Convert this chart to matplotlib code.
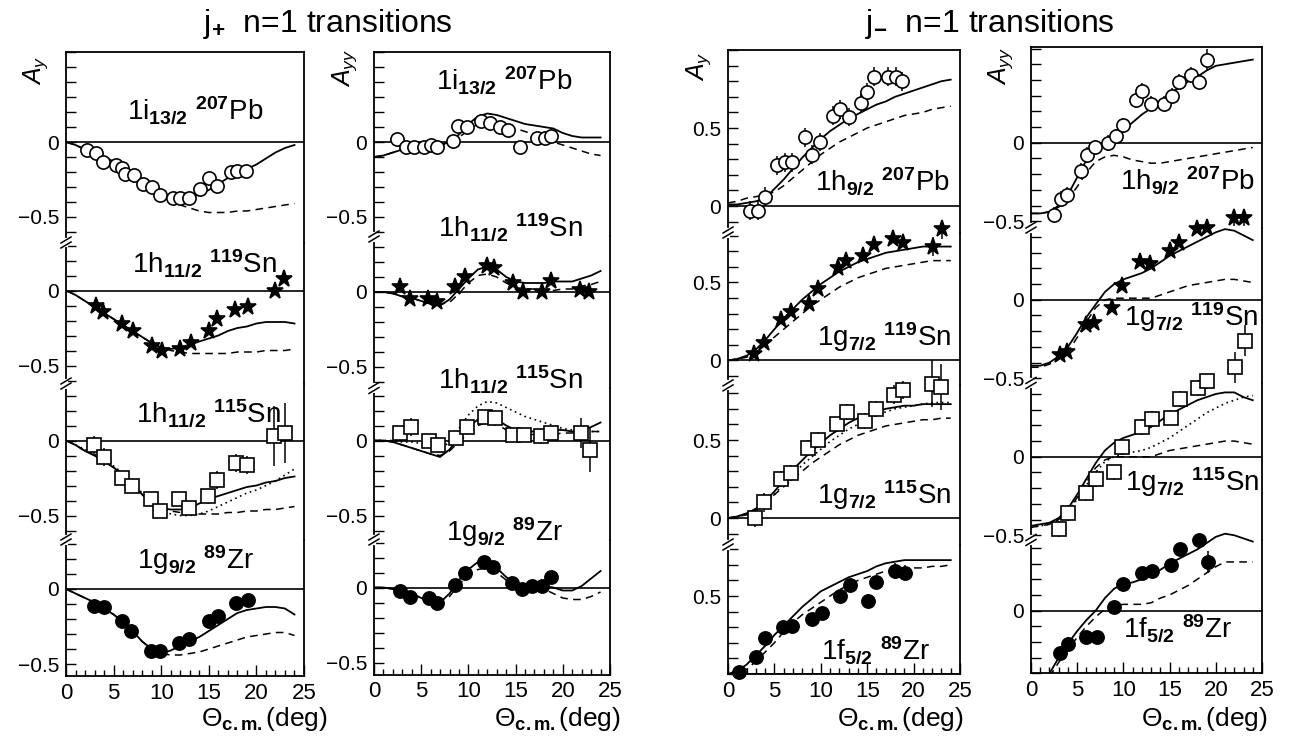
import numpy as np
import matplotlib
matplotlib.use("Agg")
import matplotlib.pyplot as plt
from matplotlib.lines import Line2D
from matplotlib.transforms import Bbox, TransformedBbox
from matplotlib.ticker import FixedLocator, FixedFormatter, MultipleLocator

plt.rcParams['font.family'] = ['Liberation Sans', 'DejaVu Sans']
plt.rcParams['mathtext.fontset'] = 'custom'
plt.rcParams['mathtext.rm'] = 'Liberation Sans'
plt.rcParams['mathtext.bf'] = 'Liberation Sans:bold'
plt.rcParams['mathtext.it'] = 'Liberation Sans:italic'
plt.rcParams['axes.linewidth'] = 1.3

nan = np.nan
theta = np.arange(25)   # model curves are tabulated every degree

# ---------------- j+ , A_y ----------------
ay_plus_pb_x = [2.2, 3.1, 3.9, 5.2, 5.9, 6.2, 7.1, 8.1, 9.0, 9.9, 11.2, 12.0, 12.9, 14.1, 15.0, 15.9, 17.3, 18.0, 18.9]
ay_plus_pb_y = [-0.05, -0.07, -0.13, -0.15, -0.17, -0.21, -0.22, -0.28, -0.30, -0.35, -0.37, -0.37, -0.37, -0.31, -0.24, -0.29, -0.20, -0.19, -0.19]
ay_plus_pb_full = [0, -0.02, -0.05, -0.07, -0.10, -0.13, -0.17, -0.21, -0.26, -0.30, -0.34, -0.37, -0.38, -0.37, -0.35, -0.32, -0.28, -0.24, -0.21, -0.18, -0.15, -0.11, -0.07, -0.04, -0.02]
ay_plus_pb_dash = [0, -0.02, -0.05, -0.07, -0.10, -0.13, -0.17, -0.21, -0.26, -0.30, -0.34, -0.38, -0.42, -0.44, -0.46, -0.47, -0.47, -0.47, -0.46, -0.46, -0.45, -0.44, -0.43, -0.42, -0.41]

ay_plus_sn119_x = [3.1, 3.9, 5.9, 7.0, 9.0, 10.1, 12.0, 13.1, 15.0, 15.9, 17.8, 19.1, 22.0, 22.9]
ay_plus_sn119_y = [-0.10, -0.14, -0.22, -0.27, -0.37, -0.40, -0.39, -0.35, -0.27, -0.19, -0.13, -0.11, 0.0, 0.08]
ay_plus_sn119_full = [0, -0.03, -0.07, -0.11, -0.15, -0.19, -0.23, -0.27, -0.31, -0.35, -0.38, -0.39, -0.38, -0.36, -0.34, -0.32, -0.30, -0.27, -0.25, -0.24, -0.22, -0.21, -0.21, -0.21, -0.22]
ay_plus_sn119_dash = [0, -0.03, -0.07, -0.11, -0.15, -0.19, -0.23, -0.27, -0.31, -0.35, -0.38, -0.40, -0.41, -0.42, -0.42, -0.42, -0.42, -0.42, -0.41, -0.41, -0.41, -0.40, -0.40, -0.40, -0.39]

ay_plus_sn115_x = [2.9, 4.0, 5.9, 6.9, 8.9, 9.9, 11.9, 12.9, 14.9, 15.9, 17.9, 19.0, 21.9, 23.0]
ay_plus_sn115_y = [-0.03, -0.11, -0.25, -0.30, -0.39, -0.47, -0.39, -0.45, -0.37, -0.26, -0.15, -0.16, 0.03, 0.05]
ay_plus_sn115_err = [0.06, 0.06, 0.03, 0.03, 0.03, 0.03, 0.03, 0.03, 0.05, 0.06, 0.06, 0.06, 0.2, 0.2]
ay_plus_sn115_full = [0, -0.03, -0.07, -0.10, -0.14, -0.18, -0.23, -0.29, -0.36, -0.42, -0.45, -0.46, -0.46, -0.45, -0.42, -0.39, -0.37, -0.35, -0.33, -0.31, -0.30, -0.28, -0.27, -0.25, -0.24]
ay_plus_sn115_dash = [0, -0.03, -0.07, -0.10, -0.14, -0.18, -0.23, -0.29, -0.36, -0.42, -0.45, -0.47, -0.48, -0.49, -0.49, -0.49, -0.49, -0.48, -0.48, -0.47, -0.47, -0.46, -0.46, -0.45, -0.44]
ay_plus_sn115_dot = [0, -0.03, -0.06, -0.09, -0.13, -0.17, -0.22, -0.28, -0.35, -0.42, -0.46, -0.49, -0.50, -0.50, -0.49, -0.47, -0.44, -0.41, -0.38, -0.35, -0.33, -0.30, -0.27, -0.23, -0.19]

ay_plus_zr_x = [2.9, 4.0, 5.9, 6.8, 8.9, 9.9, 11.9, 12.9, 15.0, 16.0, 17.9, 19.1]
ay_plus_zr_y = [-0.11, -0.12, -0.21, -0.28, -0.41, -0.41, -0.36, -0.33, -0.21, -0.18, -0.09, -0.07]
ay_plus_zr_full = [0, -0.03, -0.06, -0.09, -0.13, -0.17, -0.22, -0.28, -0.35, -0.40, -0.43, -0.41, -0.38, -0.35, -0.32, -0.28, -0.24, -0.20, -0.16, -0.14, -0.13, -0.12, -0.12, -0.13, -0.17]
ay_plus_zr_dash = [0, -0.03, -0.06, -0.09, -0.13, -0.17, -0.22, -0.28, -0.35, -0.40, -0.43, -0.44, -0.44, -0.43, -0.42, -0.40, -0.38, -0.36, -0.34, -0.32, -0.31, -0.30, -0.29, -0.29, -0.31]

# ---------------- j+ , A_yy ----------------
ayy_plus_pb_x = [2.4, 3.4, 4.2, 5.3, 6.0, 6.7, 8.4, 8.9, 9.9, 11.3, 12.3, 13.4, 14.2, 15.5, 17.3, 18.1, 18.8]
ayy_plus_pb_y = [0.02, -0.03, -0.03, -0.03, -0.02, -0.03, 0.01, 0.11, 0.10, 0.14, 0.13, 0.10, 0.08, -0.03, 0.03, 0.03, 0.04]
ayy_plus_pb_full = [-0.10, -0.09, -0.07, -0.05, -0.04, -0.03, -0.02, -0.02, 0.0, 0.05, 0.12, 0.17, 0.19, 0.18, 0.16, 0.14, 0.12, 0.11, 0.10, 0.09, 0.06, 0.04, 0.03, 0.03, 0.03]
ayy_plus_pb_dash = [-0.10, -0.09, -0.07, -0.05, -0.04, -0.03, -0.02, -0.02, -0.01, 0.03, 0.08, 0.12, 0.14, 0.13, 0.11, 0.09, 0.07, 0.05, 0.02, 0.0, -0.02, -0.04, -0.06, -0.08, -0.09]

ayy_plus_sn119_x = [2.8, 3.8, 5.7, 6.7, 8.6, 9.6, 12.0, 12.7, 14.7, 15.8, 17.8, 18.8, 21.8, 22.8]
ayy_plus_sn119_y = [0.03, -0.05, -0.05, -0.07, 0.03, 0.10, 0.17, 0.16, 0.06, 0.0, 0.0, 0.07, 0.01, 0.0]
ayy_plus_sn119_full = [0, 0, -0.01, -0.03, -0.04, -0.06, -0.08, -0.09, -0.05, 0.02, 0.09, 0.15, 0.17, 0.15, 0.10, 0.07, 0.06, 0.06, 0.06, 0.07, 0.07, 0.07, 0.09, 0.11, 0.14]
ayy_plus_sn119_dash = [0, 0, -0.01, -0.03, -0.04, -0.06, -0.07, -0.08, -0.07, -0.01, 0.06, 0.11, 0.12, 0.10, 0.06, 0.03, 0.02, 0.02, 0.01, 0.01, 0.02, 0.02, 0.04, 0.05, 0.07]

ayy_plus_sn115_x = [2.8, 3.9, 5.8, 6.8, 8.7, 9.8, 11.8, 12.8, 14.7, 15.9, 17.7, 18.7, 21.9, 22.9]
ayy_plus_sn115_y = [0.05, 0.09, 0.0, -0.03, 0.02, 0.09, 0.16, 0.15, 0.04, 0.04, 0.03, 0.05, 0.05, -0.06]
ayy_plus_sn115_err = [0.05, 0.06, 0.04, 0.04, 0.04, 0.04, 0.04, 0.05, 0.04, 0.04, 0.05, 0.04, 0.1, 0.15]
ayy_plus_sn115_full = [0, 0, -0.01, -0.03, -0.05, -0.07, -0.09, -0.11, -0.06, 0.02, 0.09, 0.14, 0.16, 0.14, 0.10, 0.07, 0.06, 0.06, 0.07, 0.07, 0.07, 0.06, 0.07, 0.09, 0.12]
ayy_plus_sn115_dash = [0, 0, -0.01, -0.03, -0.05, -0.07, -0.09, -0.10, -0.07, -0.01, 0.05, 0.10, 0.12, 0.11, 0.07, 0.05, 0.04, 0.04, 0.04, 0.04, 0.05, 0.05, 0.06, 0.06, 0.06]
ayy_plus_sn115_dot = [0, 0, 0, -0.01, -0.01, -0.02, -0.04, -0.06, -0.01, 0.08, 0.17, 0.23, 0.26, 0.25, 0.22, 0.19, 0.16, 0.14, 0.12, 0.10, 0.08, 0.07, 0.07, 0.06, 0.06]

ayy_plus_zr_x = [2.8, 3.8, 5.8, 6.7, 8.6, 9.6, 11.6, 12.6, 14.6, 15.7, 16.7, 17.8, 18.7]
ayy_plus_zr_y = [-0.02, -0.06, -0.07, -0.10, 0.02, 0.10, 0.17, 0.14, 0.03, -0.01, 0.01, 0.01, 0.07]
ayy_plus_zr_full = [0, 0, -0.01, -0.02, -0.04, -0.07, -0.09, -0.10, -0.04, 0.05, 0.12, 0.17, 0.17, 0.13, 0.07, 0.02, 0.0, 0.0, 0.01, 0.0, -0.02, -0.02, 0.01, 0.06, 0.11]
ayy_plus_zr_dash = [0, 0, -0.01, -0.02, -0.04, -0.07, -0.08, -0.09, -0.06, 0.02, 0.08, 0.12, 0.13, 0.10, 0.05, 0.02, 0.0, -0.01, -0.01, -0.04, -0.07, -0.08, -0.08, -0.06, -0.03]

# ---------------- j- , A_y ----------------
ay_minus_pb_x = [2.4, 3.2, 4.0, 5.3, 6.1, 6.9, 8.3, 9.1, 9.9, 11.3, 12.1, 13.0, 14.3, 15.0, 15.7, 17.2, 18.1, 18.8]
ay_minus_pb_y = [-0.03, -0.03, 0.06, 0.26, 0.28, 0.28, 0.44, 0.33, 0.41, 0.58, 0.62, 0.57, 0.66, 0.73, 0.83, 0.83, 0.83, 0.80]
ay_minus_pb_err = [0.06] * 18
ay_minus_pb_full = [0.01, 0.01, 0.02, 0.03, 0.05, 0.11, 0.17, 0.24, 0.31, 0.37, 0.43, 0.48, 0.52, 0.56, 0.59, 0.62, 0.65, 0.67, 0.70, 0.72, 0.74, 0.76, 0.78, 0.80, 0.81]
ay_minus_pb_dash = [0.02, 0.03, 0.05, 0.06, 0.07, 0.09, 0.13, 0.18, 0.23, 0.28, 0.33, 0.37, 0.41, 0.44, 0.47, 0.50, 0.52, 0.54, 0.56, 0.58, 0.59, 0.60, 0.62, 0.63, 0.64]

ay_minus_sn119_x = [2.8, 3.9, 5.7, 6.8, 8.7, 9.7, 11.8, 12.7, 14.6, 15.7, 17.8, 18.9, 22.1, 23.1]
ay_minus_sn119_y = [0.04, 0.11, 0.26, 0.31, 0.36, 0.46, 0.59, 0.64, 0.67, 0.74, 0.78, 0.75, 0.73, 0.84]
ay_minus_sn119_err = [0] * 12 + [0.06, 0.06]
ay_minus_sn119_full = [0, 0.01, 0.03, 0.07, 0.13, 0.20, 0.27, 0.33, 0.39, 0.44, 0.49, 0.53, 0.57, 0.60, 0.63, 0.65, 0.67, 0.69, 0.70, 0.71, 0.72, 0.73, 0.73, 0.73, 0.73]
ay_minus_sn119_dash = [0, 0.01, 0.02, 0.05, 0.10, 0.15, 0.20, 0.25, 0.30, 0.35, 0.39, 0.43, 0.47, 0.50, 0.53, 0.55, 0.57, 0.59, 0.60, 0.61, 0.62, 0.63, 0.64, 0.64, 0.64]

ay_minus_sn115_x = [2.9, 3.9, 5.7, 6.8, 8.6, 9.7, 11.7, 12.8, 14.8, 15.9, 17.9, 18.9, 22.0, 23.0]
ay_minus_sn115_y = [0.0, 0.10, 0.25, 0.29, 0.45, 0.50, 0.60, 0.68, 0.62, 0.70, 0.79, 0.82, 0.86, 0.84]
ay_minus_sn115_err = [0.06, 0.06, 0.05, 0.05, 0.05, 0.05, 0.05, 0.05, 0.05, 0.05, 0.06, 0.06, 0.15, 0.15]
ay_minus_sn115_full = [0, 0.01, 0.03, 0.06, 0.11, 0.17, 0.24, 0.31, 0.37, 0.43, 0.48, 0.53, 0.57, 0.61, 0.64, 0.66, 0.68, 0.70, 0.71, 0.72, 0.72, 0.73, 0.73, 0.73, 0.73]
ay_minus_sn115_dash = [0, 0.01, 0.02, 0.05, 0.09, 0.15, 0.20, 0.25, 0.30, 0.35, 0.39, 0.43, 0.47, 0.50, 0.53, 0.55, 0.57, 0.59, 0.60, 0.61, 0.62, 0.63, 0.63, 0.64, 0.64]
ay_minus_sn115_dot = [0, 0.01, 0.03, 0.05, 0.10, 0.15, 0.22, 0.28, 0.34, 0.39, 0.44, 0.49, 0.53, 0.57, 0.60, 0.63, 0.66, 0.68, 0.70, 0.71, 0.72, 0.73, 0.74, 0.74, 0.74]

ay_minus_zr_x = [1.2, 3.0, 4.0, 5.9, 6.9, 9.1, 10.1, 12.1, 13.1, 15.1, 16.0, 18.0, 19.1]
ay_minus_zr_y = [0.01, 0.11, 0.23, 0.30, 0.31, 0.35, 0.39, 0.50, 0.57, 0.47, 0.59, 0.66, 0.65]
ay_minus_zr_err = [0, 0.03, 0.03, 0.03, 0.03, 0.03, 0.03, 0.04, 0.04, 0.04, 0.04, 0.05, 0.05]
ay_minus_zr_full = [0, 0.02, 0.06, 0.12, 0.18, 0.25, 0.31, 0.37, 0.43, 0.48, 0.53, 0.56, 0.59, 0.62, 0.64, 0.66, 0.69, 0.71, 0.72, 0.73, 0.73, 0.73, 0.73, 0.73, 0.73]
ay_minus_zr_dash = [0, 0.01, 0.03, 0.08, 0.14, 0.20, 0.27, 0.33, 0.38, 0.42, 0.46, 0.50, 0.54, 0.57, 0.60, 0.62, 0.64, 0.66, 0.67, 0.67, 0.68, 0.68, 0.69, 0.69, 0.70]

# ---------------- j- , A_yy ----------------
ayy_minus_pb_x = [2.5, 3.2, 3.9, 5.4, 6.1, 6.9, 8.3, 9.2, 10.0, 11.4, 12.0, 13.0, 14.4, 15.3, 16.0, 17.3, 18.2, 19.1]
ayy_minus_pb_y = [-0.46, -0.36, -0.33, -0.18, -0.08, -0.03, 0.0, 0.04, 0.11, 0.27, 0.33, 0.25, 0.25, 0.30, 0.39, 0.43, 0.39, 0.53]
ayy_minus_pb_err = [0.05] * 17 + [0.07]
ayy_minus_pb_full = [-0.45, -0.45, -0.44, -0.40, -0.33, -0.22, -0.11, -0.04, 0.0, 0.04, 0.08, 0.13, 0.18, 0.22, 0.26, 0.31, 0.35, 0.39, 0.42, 0.46, 0.49, 0.50, 0.51, 0.52, 0.53]
ayy_minus_pb_dash = [-0.45, -0.45, -0.44, -0.41, -0.36, -0.28, -0.19, -0.12, -0.09, -0.08, -0.09, -0.11, -0.12, -0.13, -0.13, -0.12, -0.11, -0.10, -0.09, -0.08, -0.07, -0.06, -0.05, -0.04, -0.03]

ayy_minus_sn119_x = [3.1, 3.9, 5.9, 6.8, 8.8, 9.9, 11.8, 12.9, 15.0, 16.0, 18.0, 19.1, 22.0, 23.0]
ayy_minus_sn119_y = [-0.35, -0.33, -0.16, -0.15, -0.05, 0.09, 0.24, 0.23, 0.31, 0.36, 0.45, 0.46, 0.52, 0.52]
ayy_minus_sn119_err = [0] * 12 + [0.05, 0.05]
ayy_minus_sn119_full = [-0.42, -0.42, -0.40, -0.36, -0.30, -0.21, -0.11, -0.03, 0.05, 0.10, 0.13, 0.15, 0.17, 0.20, 0.24, 0.28, 0.31, 0.34, 0.37, 0.40, 0.43, 0.45, 0.44, 0.41, 0.38]
ayy_minus_sn119_dash = [-0.43, -0.43, -0.41, -0.38, -0.33, -0.24, -0.14, -0.05, 0.0, 0.01, 0.01, 0.01, 0.01, 0.01, 0.03, 0.05, 0.07, 0.09, 0.10, 0.11, 0.12, 0.13, 0.13, 0.12, 0.11]

ayy_minus_sn115_x = [3.0, 4.0, 6.0, 7.0, 9.0, 9.9, 12.0, 13.1, 15.1, 16.1, 18.1, 19.1, 22.1, 23.2]
ayy_minus_sn115_y = [-0.46, -0.36, -0.23, -0.14, -0.10, 0.06, 0.19, 0.24, 0.25, 0.37, 0.44, 0.48, 0.57, 0.74]
ayy_minus_sn115_err = [0.05] * 12 + [0.1, 0.1]
ayy_minus_sn115_full = [-0.44, -0.43, -0.42, -0.39, -0.33, -0.24, -0.14, -0.04, 0.04, 0.09, 0.12, 0.14, 0.16, 0.19, 0.23, 0.27, 0.30, 0.33, 0.36, 0.38, 0.40, 0.41, 0.41, 0.38, 0.36]
ayy_minus_sn115_dash = [-0.45, -0.44, -0.43, -0.40, -0.34, -0.26, -0.16, -0.07, -0.02, 0.0, 0.0, 0.0, 0.0, 0.0, 0.02, 0.04, 0.05, 0.06, 0.07, 0.08, 0.09, 0.10, 0.10, 0.09, 0.08]
ayy_minus_sn115_dot = [-0.45, -0.44, -0.43, -0.40, -0.35, -0.27, -0.18, -0.10, -0.03, 0.0, 0.02, 0.03, 0.04, 0.06, 0.09, 0.12, 0.16, 0.20, 0.24, 0.28, 0.31, 0.34, 0.36, 0.38, 0.39]

ayy_minus_zr_x = [3.1, 4.0, 6.0, 7.1, 9.0, 10.0, 12.0, 13.1, 15.2, 16.1, 18.2, 19.2]
ayy_minus_zr_y = [-0.27, -0.21, -0.17, -0.17, 0.02, 0.17, 0.24, 0.25, 0.29, 0.39, 0.45, 0.31]
ayy_minus_zr_err = [0.04] * 11 + [0.07]
ayy_minus_zr_full = [nan, nan, -0.40, -0.30, -0.21, -0.13, -0.06, 0.0, 0.08, 0.14, 0.17, 0.18, 0.20, 0.23, 0.26, 0.30, 0.33, 0.36, 0.39, 0.43, 0.47, 0.49, 0.48, 0.46, 0.44]
ayy_minus_zr_dash = [nan, nan, -0.42, -0.33, -0.25, -0.17, -0.10, -0.04, 0.01, 0.03, 0.04, 0.04, 0.04, 0.05, 0.08, 0.10, 0.13, 0.16, 0.20, 0.24, 0.28, 0.31, 0.31, 0.31, 0.31]

# ---------------- styles ----------------
open_circle = dict(marker='o', mfc='white', ms=9.5)
star = dict(marker='*', mfc='k', ms=12.5)
open_square = dict(marker='s', mfc='white', ms=9.5)
full_circle = dict(marker='o', mfc='k', ms=9.5)


def nuc(orb, frac, mass, sym):
    return r'$\mathrm{%s}_{\mathbf{%s}}\ {}^{\mathbf{%s}}\mathrm{%s}$' % (orb, frac, mass, sym)


def panel(sym, x, y, err, full, dash, dot, label, lpos, ylim, yt):
    return dict(sym=sym, x=x, y=y, err=err, full=full, dash=dash, dot=dot,
                label=label, lpos=lpos, ylim=ylim, yt=yt)


neg = ([-0.5, 0], ['\u22120.5', '0'])
pos = ([0, 0.5], ['0', '0.5'])

# each column: frame left/right/top (px), px per unit, ylabel, four panels
columns = [
    dict(left=66, right=304, top=52, scale=150, ylab=r'$A_y$', ylab_xy=(36, 70), xlab_r=328, panels=[
        panel(open_circle, ay_plus_pb_x, ay_plus_pb_y, None, ay_plus_pb_full, ay_plus_pb_dash, None,
              nuc('1i', '13/2', '207', 'Pb'), (13.6, 0.21), (-0.67, 0.60), neg),
        panel(star, ay_plus_sn119_x, ay_plus_sn119_y, None, ay_plus_sn119_full, ay_plus_sn119_dash, None,
              nuc('1h', '11/2', '119', 'Sn'), (14.5, 0.18), (-0.62, 0.32), neg),
        panel(open_square, ay_plus_sn115_x, ay_plus_sn115_y, ay_plus_sn115_err, ay_plus_sn115_full, ay_plus_sn115_dash, ay_plus_sn115_dot,
              nuc('1h', '11/2', '115', 'Sn'), (15.0, 0.18), (-0.66, 0.38), neg),
        panel(full_circle, ay_plus_zr_x, ay_plus_zr_y, None, ay_plus_zr_full, ay_plus_zr_dash, None,
              nuc('1g', '9/2', '89', 'Zr'), (13.6, 0.19), (-0.58, 0.33), neg),
    ]),
    dict(left=374, right=610, top=52, scale=150, ylab=r'$A_{yy}$', ylab_xy=(345, 68), xlab_r=621, panels=[
        panel(open_circle, ayy_plus_pb_x, ayy_plus_pb_y, None, ayy_plus_pb_full, ayy_plus_pb_dash, None,
              nuc('1i', '13/2', '207', 'Pb'), (13.8, 0.41), (-0.63, 0.60), neg),
        panel(star, ayy_plus_sn119_x, ayy_plus_sn119_y, None, ayy_plus_sn119_full, ayy_plus_sn119_dash, None,
              nuc('1h', '11/2', '119', 'Sn'), (14.5, 0.43), (-0.64, 0.37), neg),
        panel(open_square, ayy_plus_sn115_x, ayy_plus_sn115_y, ayy_plus_sn115_err, ayy_plus_sn115_full, ayy_plus_sn115_dash, ayy_plus_sn115_dot,
              nuc('1h', '11/2', '115', 'Sn'), (14.5, 0.41), (-0.66, 0.35), neg),
        panel(full_circle, ayy_plus_zr_x, ayy_plus_zr_y, None, ayy_plus_zr_full, ayy_plus_zr_dash, None,
              nuc('1g', '9/2', '89', 'Zr'), (13.8, 0.37), (-0.58, 0.32), neg),
    ]),
    dict(left=728, right=960, top=50, scale=156, ylab=r'$A_y$', ylab_xy=(699, 66), xlab_r=964, panels=[
        panel(open_circle, ay_minus_pb_x, ay_minus_pb_y, ay_minus_pb_err, ay_minus_pb_full, ay_minus_pb_dash, None,
              nuc('1h', '9/2', '207', 'Pb'), (16.6, 0.16), (-0.17, 1.00), pos),
        panel(star, ay_minus_sn119_x, ay_minus_sn119_y, ay_minus_sn119_err, ay_minus_sn119_full, ay_minus_sn119_dash, None,
              nuc('1g', '7/2', '119', 'Sn'), (16.8, 0.15), (-0.16, 0.82), pos),
        panel(open_square, ay_minus_sn115_x, ay_minus_sn115_y, ay_minus_sn115_err, ay_minus_sn115_full, ay_minus_sn115_dash, ay_minus_sn115_dot,
              nuc('1g', '7/2', '115', 'Sn'), (16.8, 0.15), (-0.17, 0.85), pos),
        panel(full_circle, ay_minus_zr_x, ay_minus_zr_y, ay_minus_zr_err, ay_minus_zr_full, ay_minus_zr_dash, None,
              nuc('1f', '5/2', '89', 'Zr'), (15.9, 0.15), (0.0, 0.83), ([0.5], ['0.5'])),
    ]),
    dict(left=1031, right=1262, top=47, scale=157, ylab=r'$A_{yy}$', ylab_xy=(1001, 66), xlab_r=1268, panels=[
        panel(open_circle, ayy_minus_pb_x, ayy_minus_pb_y, ayy_minus_pb_err, ayy_minus_pb_full, ayy_minus_pb_dash, None,
              nuc('1h', '9/2', '207', 'Pb'), (16.9, -0.24), (-0.54, 0.61), neg),
        panel(star, ayy_minus_sn119_x, ayy_minus_sn119_y, ayy_minus_sn119_err, ayy_minus_sn119_full, ayy_minus_sn119_dash, None,
              nuc('1g', '7/2', '119', 'Sn'), (17.3, -0.11), (-0.53, 0.46), neg),
        panel(open_square, ayy_minus_sn115_x, ayy_minus_sn115_y, ayy_minus_sn115_err, ayy_minus_sn115_full, ayy_minus_sn115_dash, ayy_minus_sn115_dot,
              nuc('1g', '7/2', '115', 'Sn'), (17.4, -0.16), (-0.53, 0.47), neg),
        panel(full_circle, ayy_minus_zr_x, ayy_minus_zr_y, ayy_minus_zr_err, ayy_minus_zr_full, ayy_minus_zr_dash, None,
              nuc('1f', '5/2', '89', 'Zr'), (15.9, -0.11), (-0.40, 0.45), ([0], ['0'])),
    ]),
]

W, H = 1289, 738
fig = plt.figure(figsize=(W / 100, H / 100), dpi=100)


def fx(x):
    return x / W


def fy(y):
    return 1 - y / H


for col in columns:
    top = col['top']
    n = len(col['panels'])
    breaks = []
    for i, p in enumerate(col['panels']):
        lo, hi = p['ylim']
        h = (hi - lo) * col['scale']
        ax = fig.add_axes([fx(col['left']), fy(top + h), (col['right'] - col['left']) / W, h / H])
        ax.set_xlim(0, 25)
        ax.set_ylim(lo, hi)
        ax.spines['top'].set_visible(i == 0)
        ax.spines['bottom'].set_visible(i == n - 1)
        ax.axhline(0, color='k', lw=1.2, zorder=1)

        # model curves may run a little past the top of their panel
        clip = TransformedBbox(Bbox([[0, lo], [25, hi + 0.2]]), ax.transData)
        curves = [ax.plot(theta, p['dash'], color='k', lw=1.1, dashes=(5, 3.5), zorder=2)[0]]
        if p['dot'] is not None:
            curves += ax.plot(theta, p['dot'], color='k', lw=1.2, dashes=(1, 2.2), zorder=2)
        curves += ax.plot(theta, p['full'], color='k', lw=1.3, zorder=2)
        for c in curves:
            c.set_clip_box(clip)

        # measured points
        s = p['sym']
        cont = ax.errorbar(p['x'], p['y'], yerr=p['err'], fmt=s['marker'], mfc=s['mfc'], mec='k',
                           mew=1.2, ms=s['ms'], ecolor='k', elinewidth=1.1, capsize=0, zorder=3)
        data_line, caps, bars = cont.lines
        data_line.set_clip_on(False)
        for b in bars:
            b.set_clip_on(False)

        ax.text(p['lpos'][0], p['lpos'][1], p['label'], fontsize=20, ha='center', va='center', zorder=4)

        ax.yaxis.set_major_locator(FixedLocator(p['yt'][0]))
        ax.yaxis.set_major_formatter(FixedFormatter(p['yt'][1]))
        ax.yaxis.set_minor_locator(MultipleLocator(0.1))
        ax.tick_params(axis='y', which='both', direction='in', length=7, width=1.0,
                       labelsize=15, pad=5, right=False)
        if i == n - 1:
            ax.xaxis.set_major_locator(MultipleLocator(5))
            ax.xaxis.set_minor_locator(MultipleLocator(1))
            ax.tick_params(axis='x', which='major', direction='in', length=8, width=1.0,
                           labelsize=16, pad=5, top=False)
            ax.tick_params(axis='x', which='minor', direction='in', length=4, width=1.0, top=False)
        else:
            ax.tick_params(axis='x', which='both', bottom=False, top=False, labelbottom=False)
            breaks.append(top + h)
        top += h

    # axis breaks on the left frame line
    xl = col['left']
    for yb in breaks:
        fig.add_artist(Line2D([fx(xl), fx(xl)], [fy(yb - 3), fy(yb + 3)], color='white', lw=3))
        for d in (-2.5, 2.5):
            fig.add_artist(Line2D([fx(xl - 5), fx(xl + 5)], [fy(yb + d + 3), fy(yb + d - 3)],
                                  color='k', lw=1.1))

    fig.text(fx(col['ylab_xy'][0]), fy(col['ylab_xy'][1]), col['ylab'], rotation=90,
             fontsize=18, ha='center', va='center')
    fig.text(fx(col['xlab_r']), fy(719), r'$\Theta_{\mathbf{c.m.}}\mathrm{(deg)}$',
             fontsize=19, ha='right', va='center')

fig.text(fx(328), fy(24), r'$\mathrm{j}_{\mathbf{+}}$  n=1 transitions', fontsize=23, ha='center', va='center')
fig.text(fx(990), fy(24), r'$\mathrm{j}_{\mathbf{-}}$  n=1 transitions', fontsize=23, ha='center', va='center')

fig.savefig("out.png", dpi=100)
